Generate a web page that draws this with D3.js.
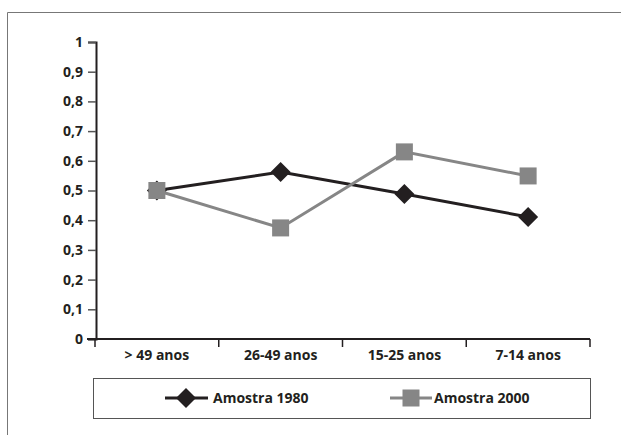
<!DOCTYPE html>
<html><head><meta charset="utf-8">
<script src="https://cdn.jsdelivr.net/npm/d3@7/dist/d3.min.js"></script>
<style>body{margin:0;background:#fff}text{font-family:"Open Sans",sans-serif;font-weight:bold;fill:#231f20}</style>
</head><body><svg id="c" width="621" height="435"></svg>
<script>
const categories = ["> 49 anos", "26-49 anos", "15-25 anos", "7-14 anos"];
const amostra1980 = [0.50, 0.562, 0.488, 0.411];
const amostra2000 = [0.50, 0.374, 0.63, 0.549];
const yTicks = [0,0.1,0.2,0.3,0.4,0.5,0.6,0.7,0.8,0.9,1];
const seriesNames = ["Amostra 1980", "Amostra 2000"];

const svg = d3.select("#c");
svg.append("path").attr("d","M7.5,435 V12.5 H621").attr("fill","none").attr("stroke","#777").attr("stroke-width",1);

const x = d3.scaleBand().domain(categories).range([95,590]);
const y = d3.scaleLinear().domain([0,1]).range([339,42]);

const fs = "14px";
const ya = svg.append("g").attr("transform","translate(96,0)")
  .call(d3.axisLeft(y).tickValues(yTicks).tickSize(8).tickPadding(5)
    .tickFormat(d=>String(d).replace(".",",")));
ya.select(".domain").attr("stroke","#231f20").attr("stroke-width",2);
ya.selectAll(".tick line").attr("stroke","#555").attr("stroke-width",1.5);
ya.selectAll("text").style("font-size",fs).style("font-family","Open Sans").style("font-weight","bold").attr("fill","#231f20");

const xa = svg.append("g").attr("transform","translate(0,339)")
  .call(d3.axisBottom(x).tickSize(0).tickPadding(11));
xa.select(".domain").attr("stroke","#231f20").attr("stroke-width",2).attr("d","M87,0H590");
xa.selectAll("text").style("font-size",fs).style("font-family","Open Sans").style("font-weight","bold").attr("fill","#231f20");
const bounds = categories.map(c=>x(c)).concat([x.range()[1]]);
svg.append("g").selectAll("line").data(bounds).join("line")
  .attr("x1",d=>d).attr("x2",d=>d).attr("y1",339).attr("y2",347)
  .attr("stroke","#231f20").attr("stroke-width",1.5);

const cx = c => x(c) + x.bandwidth()/2;
const line = d3.line().x((d,i)=>cx(categories[i])).y(d=>y(d));

function drawDiamond(sel,px,py){
  sel.append("path").attr("d","M0,-10L10,0L0,10L-10,0Z").attr("transform",`translate(${px},${py})`).attr("fill","#231f20");
}
function drawSquare(sel,px,py){
  sel.append("rect").attr("x",px-8.5).attr("y",py-8.5).attr("width",17).attr("height",17).attr("fill","#868686");
}

const g = svg.append("g");
g.append("path").datum(amostra1980).attr("d",line).attr("fill","none").attr("stroke","#231f20").attr("stroke-width",3);
amostra1980.forEach((v,i)=>drawDiamond(g,cx(categories[i]),y(v)));
g.append("path").datum(amostra2000).attr("d",line).attr("fill","none").attr("stroke","#868686").attr("stroke-width",3);
amostra2000.forEach((v,i)=>drawSquare(g,cx(categories[i]),y(v)));

const lg = svg.append("g");
lg.append("rect").attr("x",93.5).attr("y",378.5).attr("width",497).attr("height",40).attr("fill","none").attr("stroke","#555").attr("stroke-width",1);
lg.append("line").attr("x1",165).attr("x2",208).attr("y1",398).attr("y2",398).attr("stroke","#231f20").attr("stroke-width",3);
drawDiamond(lg,186,398);
lg.append("text").attr("x",213).attr("y",403).style("font-size",fs).text(seriesNames[0]);
lg.append("line").attr("x1",390).attr("x2",432).attr("y1",398).attr("y2",398).attr("stroke","#868686").attr("stroke-width",3);
drawSquare(lg,411,398);
lg.append("text").attr("x",434).attr("y",403).style("font-size",fs).text(seriesNames[1]);
</script></body></html>
